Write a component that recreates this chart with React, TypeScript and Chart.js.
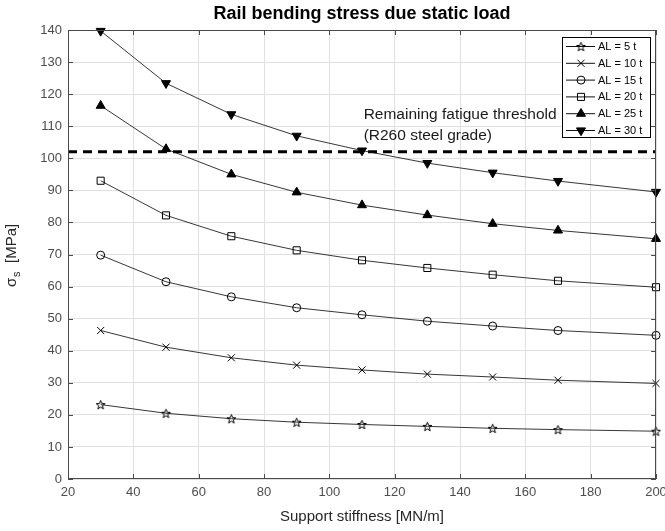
import React, { useEffect, useRef } from 'react';
import { Chart, registerables } from 'chart.js';

Chart.register(...registerables);

// ---------- data ----------
const stiffness = [30, 50, 70, 90, 110, 130, 150, 170, 200];
const al5 = [23.2, 20.5, 18.8, 17.7, 17.0, 16.4, 15.8, 15.4, 14.9];
const al10 = [46.3, 41.1, 37.8, 35.5, 34.0, 32.7, 31.8, 30.8, 29.8];
const al15 = [69.8, 61.5, 56.8, 53.4, 51.2, 49.2, 47.7, 46.3, 44.8];
const al20 = [93.0, 82.2, 75.7, 71.3, 68.2, 65.8, 63.7, 61.8, 59.8];
const al25 = [116.4, 102.9, 95.0, 89.4, 85.4, 82.3, 79.6, 77.5, 74.9];
const al30 = [139.7, 123.4, 113.7, 107.0, 102.4, 98.5, 95.5, 92.9, 89.5];
const seriesLabels = ['AL = 5 t', 'AL = 10 t', 'AL = 15 t', 'AL = 20 t', 'AL = 25 t', 'AL = 30 t'];
const seriesValues = [al5, al10, al15, al20, al25, al30];
const seriesMarkers = ['pentagram', 'crossRot', 'circle', 'rect', 'triangle', 'triangleDown'];

const xMin = 20, xMax = 200, xStep = 20;
const yMin = 0, yMax = 140, yStep = 10;
const thresholdValue = 102;
const thresholdLines = ['Remaining fatigue threshold', '(R260 steel grade)'];
const thresholdTextX = 110.5;
const thresholdTextY = [113.6, 107.0];
const titleText = 'Rail bending stress due static load';
const xTitle = 'Support stiffness [MN/m]';

const FONT = '"Liberation Sans", Arial, Helvetica, sans-serif';

function makePentagram(size: number): HTMLCanvasElement {
  const c = document.createElement('canvas');
  c.width = size;
  c.height = size;
  const ctx = c.getContext('2d')!;
  const cx = size / 2, cy = size / 2 + 0.5;
  const R = size / 2 - 0.8, r = R * 0.42;
  ctx.beginPath();
  for (let i = 0; i < 10; i++) {
    const ang = -Math.PI / 2 + (i * Math.PI) / 5;
    const rad = i % 2 === 0 ? R : r;
    ctx.lineTo(cx + rad * Math.cos(ang), cy + rad * Math.sin(ang));
  }
  ctx.closePath();
  ctx.strokeStyle = '#000';
  ctx.lineWidth = 1;
  ctx.stroke();
  return c;
}

function drawMarker(ctx: CanvasRenderingContext2D, kind: string, x: number, y: number, star: HTMLCanvasElement) {
  ctx.save();
  ctx.strokeStyle = '#000';
  ctx.fillStyle = '#000';
  ctx.lineWidth = 1;
  ctx.beginPath();
  if (kind === 'pentagram') {
    ctx.drawImage(star, x - star.width / 2, y - star.height / 2);
  } else if (kind === 'crossRot') {
    const o = 5 * Math.SQRT1_2;
    ctx.moveTo(x - o, y - o); ctx.lineTo(x + o, y + o);
    ctx.moveTo(x - o, y + o); ctx.lineTo(x + o, y - o);
    ctx.stroke();
  } else if (kind === 'circle') {
    ctx.arc(x, y, 4, 0, Math.PI * 2);
    ctx.stroke();
  } else if (kind === 'rect') {
    const s = 5 * Math.SQRT1_2;
    ctx.rect(x - s, y - s, 2 * s, 2 * s);
    ctx.stroke();
  } else if (kind === 'triangle' || kind === 'triangleDown') {
    const r = 5.2;
    let rad = kind === 'triangle' ? 0 : Math.PI;
    ctx.moveTo(x + Math.sin(rad) * r, y - Math.cos(rad) * r);
    rad += (2 * Math.PI) / 3;
    ctx.lineTo(x + Math.sin(rad) * r, y - Math.cos(rad) * r);
    rad += (2 * Math.PI) / 3;
    ctx.lineTo(x + Math.sin(rad) * r, y - Math.cos(rad) * r);
    ctx.closePath();
    ctx.fill();
    ctx.stroke();
  }
  ctx.restore();
}

export default function App() {
  const ref = useRef<HTMLCanvasElement | null>(null);

  useEffect(() => {
    const canvas = ref.current;
    if (!canvas) return;
    const star = makePentagram(11);

    const datasets = seriesValues.map((vals, i) => {
      const kind = seriesMarkers[i];
      const filled = kind === 'triangle' || kind === 'triangleDown';
      let pointStyle: any = kind;
      if (kind === 'pentagram') pointStyle = star;
      if (kind === 'triangleDown') pointStyle = 'triangle';
      return {
        label: seriesLabels[i],
        data: stiffness.map((x, j) => ({ x, y: vals[j] })),
        borderColor: 'rgba(20,20,20,0.85)',
        borderWidth: 1,
        tension: 0,
        fill: false,
        pointStyle,
        pointRotation: kind === 'triangleDown' ? 180 : 0,
        pointRadius: filled ? 5.2 : kind === 'circle' ? 4 : 5,
        pointBorderColor: '#000',
        pointBackgroundColor: filled ? '#000' : 'rgba(0,0,0,0)',
        pointBorderWidth: 1,
        clip: false as any,
      };
    });

    const customDraw = {
      id: 'customDraw',
      beforeDatasetsDraw(chart: any) {
        const { ctx, chartArea } = chart;
        const yS = chart.scales.y;
        const yp = yS.getPixelForValue(thresholdValue);
        ctx.save();
        ctx.strokeStyle = '#000';
        ctx.lineWidth = 3;
        ctx.setLineDash([9, 6]);
        ctx.beginPath();
        ctx.moveTo(chartArea.left, yp);
        ctx.lineTo(chartArea.right, yp);
        ctx.stroke();
        ctx.restore();
      },
      afterDatasetsDraw(chart: any) {
        const { ctx, chartArea } = chart;
        const xS = chart.scales.x;
        const yS = chart.scales.y;
        const { left, right, top, bottom } = chartArea;
        ctx.save();
        // box + inward ticks
        ctx.strokeStyle = '#4a4a4a';
        ctx.lineWidth = 1;
        ctx.beginPath();
        ctx.moveTo(left, top + 0.5); ctx.lineTo(right, top + 0.5);
        ctx.moveTo(right - 0.5, top); ctx.lineTo(right - 0.5, bottom);
        ctx.moveTo(left + 0.5, top); ctx.lineTo(left + 0.5, bottom);
        ctx.moveTo(left, bottom - 0.5); ctx.lineTo(right, bottom - 0.5);
        const tl = 5;
        for (let v = xMin; v <= xMax; v += xStep) {
          const px = Math.round(xS.getPixelForValue(v)) + 0.5;
          ctx.moveTo(px, bottom); ctx.lineTo(px, bottom - tl);
          ctx.moveTo(px, top); ctx.lineTo(px, top + tl);
        }
        for (let v = yMin; v <= yMax; v += yStep) {
          const py = Math.round(yS.getPixelForValue(v)) + 0.5;
          ctx.moveTo(left, py); ctx.lineTo(left + tl, py);
          ctx.moveTo(right, py); ctx.lineTo(right - tl, py);
        }
        ctx.stroke();

        // annotation text
        ctx.fillStyle = '#1a1a1a';
        ctx.font = `15.5px ${FONT}`;
        ctx.textAlign = 'left';
        ctx.textBaseline = 'middle';
        thresholdLines.forEach((t, i) => {
          ctx.fillText(t, xS.getPixelForValue(thresholdTextX), yS.getPixelForValue(thresholdTextY[i]));
        });

        // legend
        const lx = 562, ly = 37, lw = 88, lh = 100;
        ctx.fillStyle = '#fff';
        ctx.fillRect(lx, ly, lw, lh);
        ctx.strokeStyle = '#000';
        ctx.lineWidth = 1;
        ctx.strokeRect(lx + 0.5, ly + 0.5, lw, lh);
        ctx.font = `11px ${FONT}`;
        seriesLabels.forEach((lab, i) => {
          const yy = ly + 9.5 + i * 16.8;
          ctx.strokeStyle = '#111';
          ctx.beginPath();
          ctx.moveTo(lx + 4, yy);
          ctx.lineTo(lx + 33, yy);
          ctx.stroke();
          drawMarker(ctx, seriesMarkers[i], lx + 19, yy, star);
          ctx.fillStyle = '#000';
          ctx.textAlign = 'left';
          ctx.textBaseline = 'middle';
          ctx.fillText(lab, lx + 36, yy + 0.5);
        });

        // title
        ctx.fillStyle = '#000';
        ctx.font = `bold 18px ${FONT}`;
        ctx.textAlign = 'center';
        ctx.textBaseline = 'middle';
        ctx.fillText(titleText, (left + right) / 2, 14);

        // y title with subscript
        ctx.translate(16, 287);
        ctx.rotate(-Math.PI / 2);
        ctx.fillStyle = '#262626';
        ctx.textAlign = 'left';
        ctx.textBaseline = 'alphabetic';
        ctx.font = `15px ${FONT}`;
        ctx.fillText('σ', 0, 0);
        ctx.font = `11px ${FONT}`;
        ctx.fillText('s', 10, 4);
        ctx.font = `15px ${FONT}`;
        ctx.fillText('[MPa]', 24, 0);
        ctx.restore();
      },
    };

    const chart = new Chart(canvas, {
      type: 'line',
      data: { datasets: datasets as any },
      options: {
        animation: false,
        responsive: false,
        devicePixelRatio: 1,
        layout: { padding: { top: 30, right: 9, left: 0, bottom: 0 } },
        plugins: {
          legend: { display: false },
          title: { display: false },
          tooltip: { enabled: false },
        },
        scales: {
          x: {
            type: 'linear',
            min: xMin,
            max: xMax,
            ticks: { stepSize: xStep, font: { family: FONT, size: 13 }, color: '#4d4d4d', padding: 6, maxRotation: 0 },
            grid: { color: '#e0e0e0', drawTicks: false },
            border: { display: false },
            title: { display: true, text: xTitle, font: { family: FONT, size: 15 }, color: '#262626', padding: { top: 0, bottom: 5 } },
            afterFit: (s: any) => { s.height = 52; s.paddingLeft = 0; s.paddingRight = 0; },
          },
          y: {
            type: 'linear',
            min: yMin,
            max: yMax,
            ticks: { stepSize: yStep, font: { family: FONT, size: 13 }, color: '#4d4d4d', padding: 6 },
            grid: { color: '#e0e0e0', drawTicks: false },
            border: { display: false },
            afterFit: (s: any) => { s.width = 68; s.paddingTop = 0; s.paddingBottom = 0; },
          },
        },
      } as any,
      plugins: [customDraw],
    });
    return () => chart.destroy();
  }, []);

  return (
    <div style={{ position: 'absolute', left: 0, top: 0, width: 665, height: 531, background: '#fff' }}>
      <canvas ref={ref} width={665} height={531} style={{ display: 'block', width: 665, height: 531 }} />
    </div>
  );
}
